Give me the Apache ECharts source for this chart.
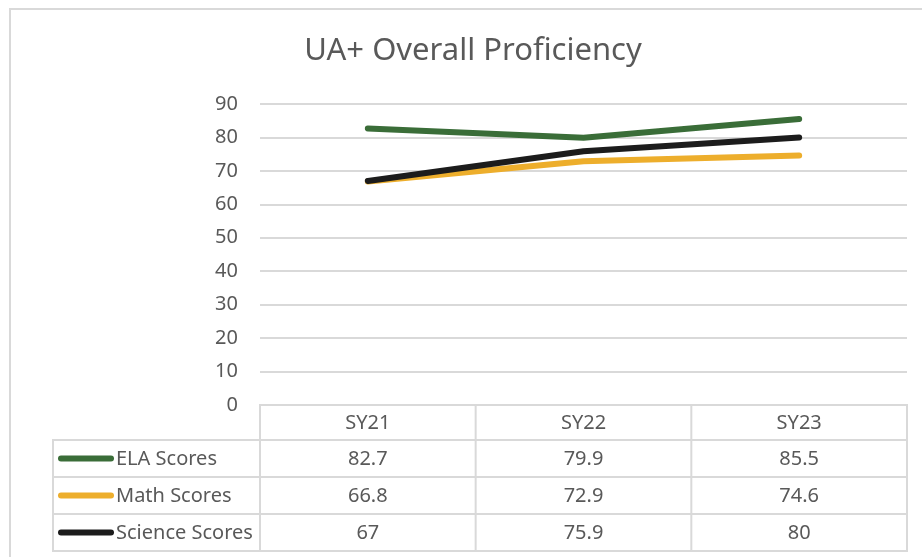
<!DOCTYPE html>
<html><head><meta charset="utf-8">
<script src="https://cdn.jsdelivr.net/npm/echarts@6/dist/echarts.min.js"></script>
<style>html,body{margin:0;padding:0;background:#fff}#c{width:922px;height:557px}</style>
</head><body><div id="c"></div>
<script>
const titleText = 'UA+ Overall Proficiency';
const categories = ['SY21', 'SY22', 'SY23'];
const seriesNames = ['ELA Scores', 'Math Scores', 'Science Scores'];
const elaScores = [82.7, 79.9, 85.5];
const mathScores = [66.8, 72.9, 74.6];
const scienceScores = [67, 75.9, 80];
const seriesColors = ['#3a6d38', '#edae2c', '#1c1c1c'];
const yTicks = { min: 0, max: 90, interval: 10 };

const allValues = [elaScores, mathScores, scienceScores];
const FONT = 'Noto Sans';
const TXT = '#595959';
const BORDER = '#d9d9d9';

const gridL = 260, gridR = 907, gridT = 104, gridB = 405;
const rowBounds = [405, 440, 477, 514, 551];
const labelColL = 53;

const chart = echarts.init(document.getElementById('c'), null, {renderer: 'canvas'});

const series = seriesNames.map((n, i) => ({
  name: n, type: 'line', data: allValues[i],
  symbol: 'none', smooth: false,
  lineStyle: { color: seriesColors[i], width: 6, cap: 'round', join: 'round' },
  itemStyle: { color: seriesColors[i] },
  z: 3 + i
}));

const g = [];
g.push({ type: 'rect', shape: { x: 10, y: 9, width: 930, height: 570 }, style: { fill: 'none', stroke: BORDER, lineWidth: 2 }, silent: true });
g.push({ type: 'text', x: 473, y: 51, style: { text: titleText, font: '31px "' + FONT + '"', fill: TXT, align: 'center', verticalAlign: 'middle' } });

const colW = (gridR - gridL) / categories.length;
g.push({ type: 'rect', shape: { x: gridL, y: rowBounds[0], width: gridR - gridL, height: rowBounds[1] - rowBounds[0] }, style: { fill: 'none', stroke: BORDER, lineWidth: 2 }, z: 10 });
g.push({ type: 'rect', shape: { x: labelColL, y: rowBounds[1], width: gridR - labelColL, height: rowBounds[4] - rowBounds[1] }, style: { fill: 'none', stroke: BORDER, lineWidth: 2 }, z: 10 });
for (let r = 2; r < rowBounds.length - 1; r++) {
  g.push({ type: 'line', shape: { x1: labelColL, y1: rowBounds[r], x2: gridR, y2: rowBounds[r] }, style: { stroke: BORDER, lineWidth: 2 }, z: 10 });
}
for (let c = 0; c <= categories.length; c++) {
  const x = gridL + c * colW;
  g.push({ type: 'line', shape: { x1: x, y1: rowBounds[0], x2: x, y2: rowBounds[4] }, style: { stroke: BORDER, lineWidth: 2 }, z: 10 });
}
categories.forEach((cat, c) => {
  g.push({ type: 'text', x: gridL + (c + 0.5) * colW, y: (rowBounds[0] + rowBounds[1]) / 2 + 1, style: { text: cat, font: '20px "' + FONT + '"', fill: TXT, align: 'center', verticalAlign: 'middle' }, z: 11 });
});
seriesNames.forEach((n, i) => {
  const yc = (rowBounds[i + 1] + rowBounds[i + 2]) / 2 + 1;
  g.push({ type: 'line', shape: { x1: 61, y1: yc - 1, x2: 111, y2: yc - 1 }, style: { stroke: seriesColors[i], lineWidth: 6, lineCap: 'round' }, z: 11 });
  g.push({ type: 'text', x: 116, y: yc, style: { text: n, font: '20px "' + FONT + '"', fill: TXT, align: 'left', verticalAlign: 'middle' }, z: 11 });
  allValues[i].forEach((v, c) => {
    g.push({ type: 'text', x: gridL + (c + 0.5) * colW, y: yc, style: { text: String(v), font: '20px "' + FONT + '"', fill: TXT, align: 'center', verticalAlign: 'middle' }, z: 11 });
  });
});

chart.setOption({
  animation: false,
  backgroundColor: '#fff',
  grid: { left: gridL, right: 922 - gridR, top: gridT, bottom: 557 - gridB, containLabel: false },
  xAxis: {
    type: 'category', data: categories, boundaryGap: true,
    axisLine: { show: false }, axisTick: { show: false }, axisLabel: { show: false }, splitLine: { show: false }
  },
  yAxis: {
    type: 'value', min: yTicks.min, max: yTicks.max, interval: yTicks.interval,
    axisLine: { show: false }, axisTick: { show: false },
    axisLabel: { color: TXT, fontFamily: FONT, fontSize: 20, margin: 22 },
    splitLine: { lineStyle: { color: BORDER, width: 2 } }
  },
  series: series,
  graphic: g
});
</script>
</body></html>
